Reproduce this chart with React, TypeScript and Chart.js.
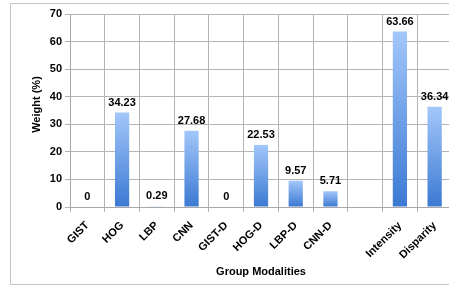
import React, { useEffect, useRef } from "react";
import { Chart, registerables } from "chart.js";

Chart.register(...registerables);

const categories = ["GIST", "HOG", "LBP", "CNN", "GIST-D", "HOG-D", "LBP-D", "CNN-D", "", "Intensity", "Disparity"];
const weights: (number | null)[] = [0, 34.23, 0.29, 27.68, 0, 22.53, 9.57, 5.71, null, 63.66, 36.34];
const yTicks = [0, 10, 20, 30, 40, 50, 60, 70];
const yTitle = "Weight (%)";
const xTitle = "Group Modalities";

const FONT = "'Liberation Sans', Arial, sans-serif";

export default function App() {
  const ref = useRef<HTMLCanvasElement | null>(null);

  useEffect(() => {
    const canvas = ref.current;
    if (!canvas) return;

    const borderPlugin = {
      id: "outerBorder",
      beforeDraw(chart: any) {
        const ctx = chart.ctx;
        ctx.save();
        ctx.fillStyle = "#ffffff";
        ctx.fillRect(0, 0, chart.width, chart.height);
        ctx.strokeStyle = "#c4c4c4";
        ctx.lineWidth = 1;
        ctx.strokeRect(10.5, 3.5, chart.width + 20, 281);
        ctx.restore();
      },
    };

    const labelPlugin = {
      id: "valueLabels",
      afterDatasetsDraw(chart: any) {
        const ctx = chart.ctx;
        const meta = chart.getDatasetMeta(0);
        ctx.save();
        ctx.font = `bold 11px ${FONT}`;
        ctx.fillStyle = "#000000";
        ctx.textAlign = "center";
        ctx.textBaseline = "middle";
        meta.data.forEach((el: any, i: number) => {
          const v = weights[i];
          if (v === null || v === undefined) return;
          ctx.fillText(String(v), el.x, el.y - 10);
        });
        // y axis title
        const ys = chart.scales.y;
        ctx.translate(37, (ys.top + ys.bottom) / 2 - 6);
        ctx.rotate(-Math.PI / 2);
        ctx.fillText(yTitle, 0, 0);
        ctx.restore();
      },
    };

    const chart = new Chart(canvas, {
      type: "bar",
      data: {
        labels: categories,
        datasets: [
          {
            data: weights,
            backgroundColor: (c: any) => {
              const ch = c.chart;
              const ys = ch.scales?.y;
              const v = c.raw;
              if (!ys || v === null || v === undefined) return "#6fa3ea";
              const top = ys.getPixelForValue(v);
              const bottom = ys.getPixelForValue(0);
              if (!isFinite(top) || !isFinite(bottom) || bottom - top < 1) return "#a6c9f8";
              const g = ch.ctx.createLinearGradient(0, top, 0, bottom);
              g.addColorStop(0, "#a3c7fa");
              g.addColorStop(1, "#3b79d2");
              return g;
            },
            borderWidth: 0,
            barPercentage: 0.41,
            categoryPercentage: 1,
          },
        ],
      },
      options: {
        responsive: false,
        animation: false,
        layout: { padding: { left: 10, top: 14, right: 18, bottom: 0 } },
        plugins: {
          legend: { display: false },
          tooltip: { enabled: false },
        },
        scales: {
          x: {
            grid: { color: "#b4b4b4", offset: true, tickLength: 5, lineWidth: 1 },
            border: { color: "#a8a8a8" },
            ticks: {
              color: "#000",
              font: { family: FONT, size: 11, weight: "bold" },
              minRotation: 45,
              maxRotation: 45,
              autoSkip: false,
              padding: 7,
            },
            title: {
              display: true,
              text: xTitle,
              color: "#000",
              font: { family: FONT, size: 11, weight: "bold" },
              padding: { top: 4, bottom: 9 },
            },
            afterFit(scale: any) {
              scale.height = 81;
            },
          },
          y: {
            min: 0,
            max: 70,
            afterBuildTicks(scale: any) {
              scale.ticks = yTicks.map((v) => ({ value: v }));
            },
            grid: { color: "#b4b4b4", tickLength: 5, lineWidth: 1 },
            border: { color: "#a8a8a8" },
            ticks: {
              color: "#000",
              font: { family: FONT, size: 11, weight: "bold" },
              padding: 3,
            },
            title: { display: false },
            afterFit(scale: any) {
              scale.width = 60;
            },
          },
        },
      },
      plugins: [borderPlugin, labelPlugin],
    } as any);

    return () => chart.destroy();
  }, []);

  return (
    <div style={{ position: "fixed", left: 0, top: 0, width: 449, height: 288, overflow: "hidden", background: "#fff" }}>
      <canvas ref={ref} width={470} height={288} style={{ display: "block" }} />
    </div>
  );
}
